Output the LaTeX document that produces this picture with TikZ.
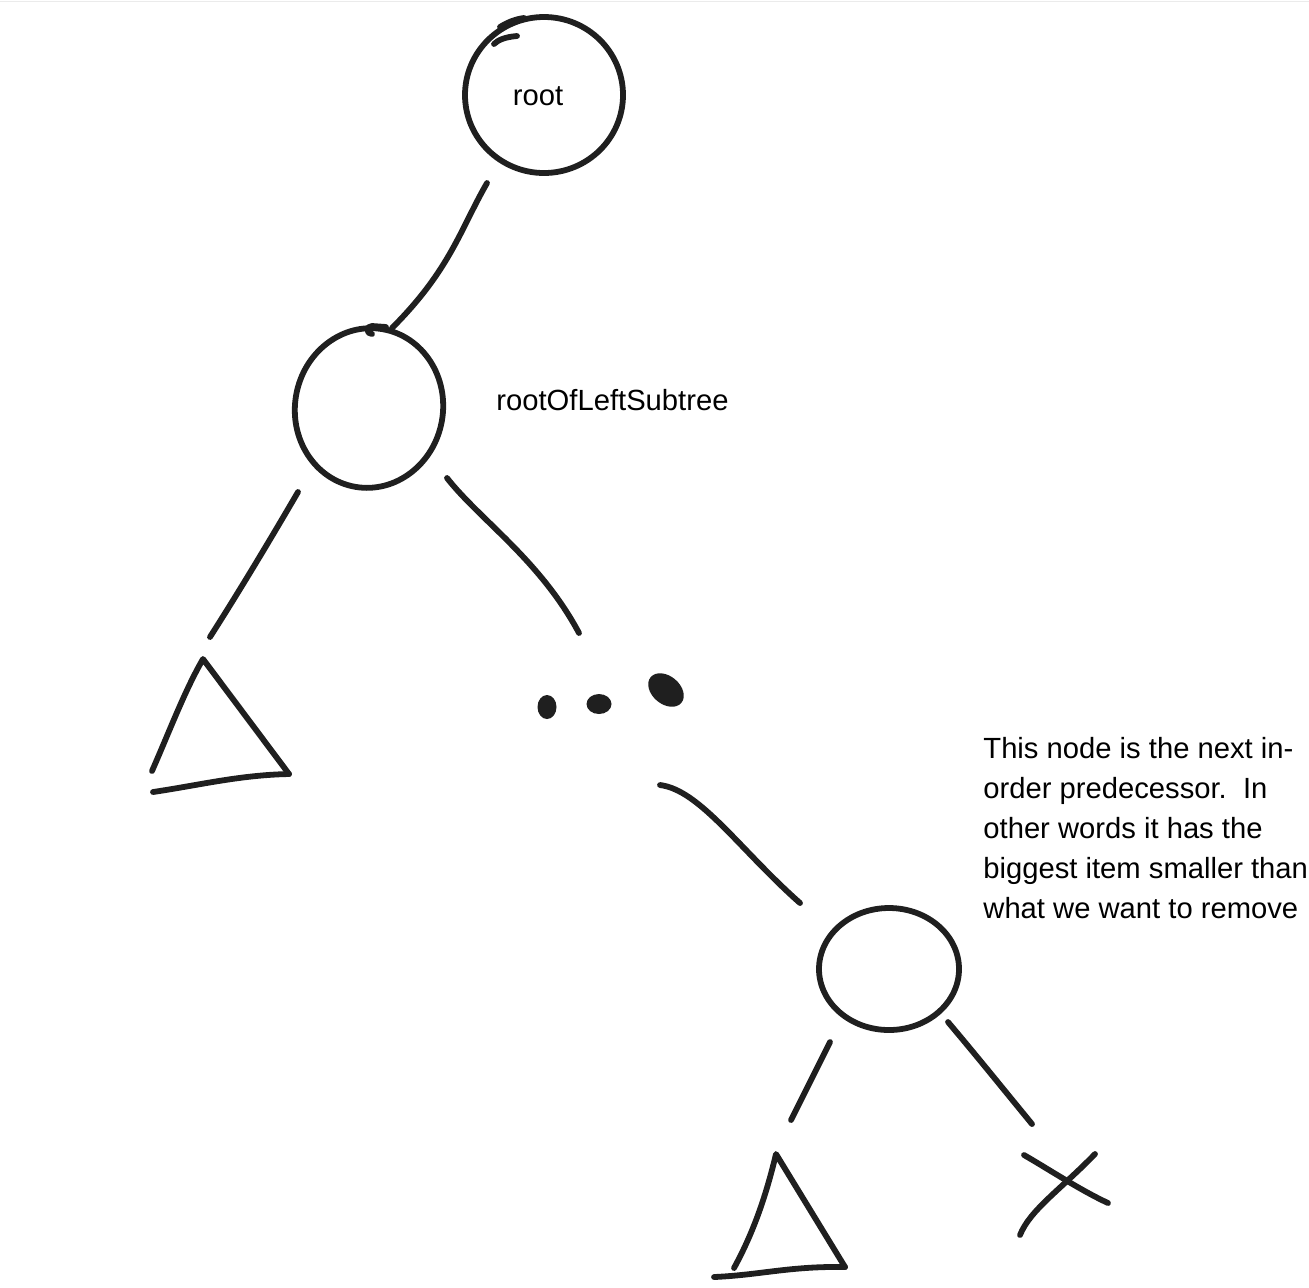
\documentclass[tikz,border=0pt]{standalone}
\usepackage{fontspec}
\setmainfont{Liberation Sans}
\usetikzlibrary{shapes.geometric}
\begin{document}
\begin{tikzpicture}[x=0.5pt,y=-0.5pt,
  ink/.style={line width=2.9pt,line cap=round,line join=round,draw=black!88},
  treenode/.style={ellipse,ink,inner sep=0pt},
  lbl/.style={font=\fontsize{14.6}{20}\selectfont,inner sep=0pt},
  blob/.style={fill=black!88,draw=none}]
\useasboundingbox (0,0) rectangle (1309,1287);
\draw[black!8,line width=0.5pt] (0,1) -- (1309,1);
% nodes
\node[treenode,minimum width=79pt,minimum height=78pt] (root) at (544,95) {};
\node[lbl] (rootlbl) at (538,96) {root};
\node[treenode,minimum width=74pt,minimum height=80pt,rotate=-10] (left) at (369,408) {};
\node[lbl,anchor=west] (leftlbl) at (496,400) {rootOfLeftSubtree};
\node[treenode,minimum width=70pt,minimum height=61pt] (pred) at (889,969) {};
\node[lbl,anchor=north west,align=left] (note) at (983,737)
  {This node is the next in-\\order predecessor.\ \ In\\other words it has the\\biggest item smaller than\\what we want to remove};
% small pen overlaps
\draw[ink] (517,36) .. controls (505,37) and (498,40) .. (494,44);
\draw[ink] (500,27) .. controls (508,22) and (516,19) .. (524,18);
\draw[ink] (372,334) .. controls (366,334) and (366,326) .. (372,326) -- (386,327);
% connector end points
\coordinate (r1) at (487,183);
\coordinate (r2) at (392,328);
\coordinate (l1) at (298,492);
\coordinate (l2) at (210,637);
\coordinate (l3) at (447,478);
\coordinate (l4) at (579,633);
\coordinate (d1) at (660,785);
\coordinate (d2) at (800,903);
\coordinate (p1) at (830,1042);
\coordinate (p2) at (791,1120);
\coordinate (p3) at (948,1022);
\coordinate (p4) at (1032,1124);
% connectors
\draw[ink] (r1) .. controls (460,230) and (450,270) .. (r2);
\draw[ink] (l1) .. controls (270,540) and (240,590) .. (l2);
\draw[ink] (l3) .. controls (480,520) and (540,560) .. (l4);
\draw[ink] (d1) .. controls (700,790) and (740,850) .. (d2);
\draw[ink] (p1) -- (p2);
\draw[ink] (p3) .. controls (980,1060) and (1000,1085) .. (p4);
% left subtree triangle
\coordinate (ta) at (203,659);
\coordinate (tb) at (152,771);
\coordinate (tc) at (289,774);
\draw[ink] (tb) .. controls (170,730) and (185,690) .. (ta) -- (tc);
\draw[ink] (153,792) .. controls (200,785) and (240,775) .. (tc);
% dots
\fill[blob] (547,707) ellipse [x radius=9.5, y radius=12];
\fill[blob] (599,704) ellipse [x radius=12.5, y radius=10];
\fill[blob,rotate around={-40:(666,690)}] (666,690) ellipse [x radius=20, y radius=14];
% bottom triangle
\coordinate (sa) at (776,1154);
\coordinate (sb) at (734,1268);
\coordinate (sc) at (845,1267);
\draw[ink] (sb) .. controls (752,1235) and (765,1200) .. (sa) -- (sc);
\draw[ink] (714,1277) .. controls (760,1275) and (790,1266) .. (sc);
% X
\draw[ink] (1024,1155) .. controls (1050,1170) and (1080,1190) .. (1108,1203);
\draw[ink] (1095,1154) .. controls (1060,1190) and (1030,1210) .. (1020,1235);
\end{tikzpicture}
\end{document}
